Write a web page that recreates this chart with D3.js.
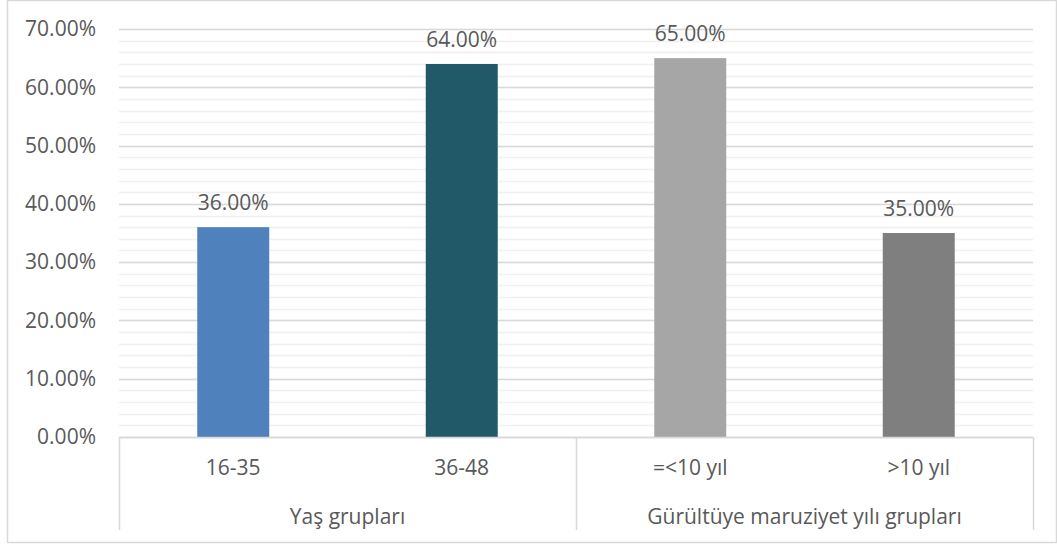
<!DOCTYPE html>
<html>
<head>
<meta charset="utf-8">
<script src="https://cdn.jsdelivr.net/npm/d3@7"></script>
<style>
  body { margin: 0; background: #fff; }
  text { font-family: "Open Sans", sans-serif; fill: #595959; }
</style>
</head>
<body>
<div id="canvas"></div>
<script>
// data
const categories = ["16-35", "36-48", "=<10 yıl", ">10 yıl"];
const values = [0.36, 0.64, 0.65, 0.35];
const barColors = ["#4f81bd", "#215968", "#a6a6a6", "#7f7f7f"];
const groupNames = ["Yaş grupları", "Gürültüye maruziyet yılı grupları"];
const groupMembers = [["16-35", "36-48"], ["=<10 yıl", ">10 yıl"]];

const width = 1057;
const height = 545;
const margin = { top: 29, bottom: 108, left: 119, right: 24 };
const iwidth = width - margin.left - margin.right;
const iheight = height - margin.top - margin.bottom;
const fontSize = "21px";

const svg = d3.select("#canvas").append("svg")
  .attr("width", width)
  .attr("height", height);

// chart border
svg.append("rect")
  .attr("x", 7.5).attr("y", 0.5)
  .attr("width", 1049).attr("height", 542)
  .attr("fill", "none")
  .attr("stroke", "#d9d9d9")
  .attr("stroke-width", 1.5);

const g = svg.append("g")
  .attr("transform", `translate(${margin.left}, ${margin.top})`);

const y = d3.scaleLinear().domain([0, 0.7]).range([iheight, 0]);
const x = d3.scaleBand().domain(categories).range([0, iwidth]).padding(0);
const barW = x.bandwidth() * 0.315;

// minor grid
g.append("g")
  .selectAll("line")
  .data(d3.range(0, 0.7001, 0.02))
  .join("line")
  .attr("x1", 0).attr("x2", iwidth)
  .attr("y1", d => Math.round(y(d)) + 0.5)
  .attr("y2", d => Math.round(y(d)) + 0.5)
  .attr("stroke", "#f0f0f0")
  .attr("stroke-width", 1.5);

// major grid
g.append("g")
  .selectAll("line")
  .data(y.ticks(7))
  .join("line")
  .attr("x1", 0).attr("x2", iwidth)
  .attr("y1", d => Math.round(y(d)) + 0.5)
  .attr("y2", d => Math.round(y(d)) + 0.5)
  .attr("stroke", "#d9d9d9")
  .attr("stroke-width", 1.5);

// y axis labels
const yAxis = g.append("g")
  .call(d3.axisLeft(y).ticks(7).tickFormat(d3.format(".2%")).tickSize(0).tickPadding(23));
yAxis.select(".domain").remove();
yAxis.selectAll("text")
  .style("font-size", fontSize)
  .attr("fill", "#595959");

// bars
g.selectAll("rect.bar")
  .data(values)
  .join("rect")
  .attr("class", "bar")
  .attr("x", (d, i) => x(categories[i]) + (x.bandwidth() - barW) / 2)
  .attr("y", d => y(d))
  .attr("width", barW)
  .attr("height", d => iheight - y(d))
  .attr("fill", (d, i) => barColors[i]);

// data labels
g.selectAll("text.lbl")
  .data(values)
  .join("text")
  .attr("class", "lbl")
  .attr("x", (d, i) => x(categories[i]) + x.bandwidth() / 2)
  .attr("y", d => y(d) - 17)
  .attr("text-anchor", "middle")
  .style("font-size", fontSize)
  .text(d => d3.format(".2%")(d));

// category axis
const axisColor = "#d9d9d9";
g.append("line")
  .attr("x1", 0).attr("x2", iwidth)
  .attr("y1", iheight + 0.5).attr("y2", iheight + 0.5)
  .attr("stroke", axisColor).attr("stroke-width", 1.5);

const boundaries = [0];
groupMembers.forEach(m => boundaries.push(x(m[m.length - 1]) + x.bandwidth()));
g.selectAll("line.sep")
  .data(boundaries)
  .join("line")
  .attr("class", "sep")
  .attr("x1", d => Math.round(d) + 0.5).attr("x2", d => Math.round(d) + 0.5)
  .attr("y1", iheight).attr("y2", iheight + 93)
  .attr("stroke", axisColor).attr("stroke-width", 1.5);

g.selectAll("text.cat")
  .data(categories)
  .join("text")
  .attr("class", "cat")
  .attr("x", d => x(d) + x.bandwidth() / 2)
  .attr("y", iheight + 38)
  .attr("text-anchor", "middle")
  .style("font-size", fontSize)
  .text(d => d);

g.selectAll("text.grp")
  .data(groupNames)
  .join("text")
  .attr("class", "grp")
  .attr("x", (d, i) => {
    const m = groupMembers[i];
    return (x(m[0]) + x(m[m.length - 1]) + x.bandwidth()) / 2;
  })
  .attr("y", iheight + 87)
  .attr("text-anchor", "middle")
  .style("font-size", fontSize)
  .text(d => d);
</script>
</body>
</html>
